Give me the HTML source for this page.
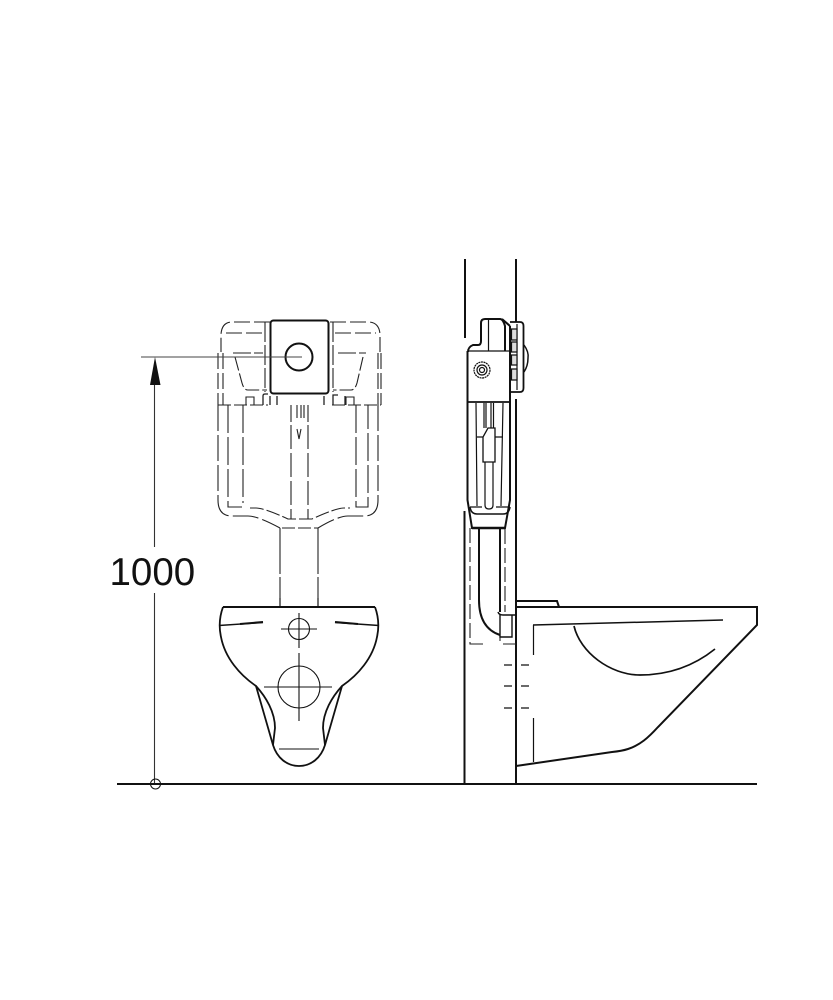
<!DOCTYPE html>
<html>
<head>
<meta charset="utf-8">
<style>
html,body{margin:0;padding:0;background:#fff;width:833px;height:1000px;overflow:hidden}
svg{display:block}
text{font-family:"Liberation Sans",sans-serif}
</style>
</head>
<body>
<svg width="833" height="1000" viewBox="0 0 833 1000" fill="none" stroke="#111">
<!-- dashed front cistern -->
<g stroke-width="1.100" stroke-dasharray="16 4" stroke="#222">
<path d="M270 322H232Q222 322 221 334V352"/>
<path d="M330 322H368Q379 322 380 334V352"/>
<path d="M226 333H264M335 333H376"/>
<path d="M218 353V405M223 353V405M378 353V405M381 353V405"/>
<path d="M265 322V392M333 322V392" stroke-dasharray="20 3"/>
<path d="M218 405H268M332 405H381" stroke-dasharray="13 3"/>
<path d="M233 353H263M338 353H366" stroke-dasharray="18 3"/>
<path d="M235 357L242 383Q244 390 248 390H267M363 357L357 383Q355 390 351 390H333" stroke-dasharray="14 3"/>
<path d="M218 405V500Q218 516 232 516H248Q258 516 280 528M378 405V500Q378 516 364 516H348Q338 516 318 528" stroke-dasharray="26 4"/>
<path d="M250 508H256Q264 508 288 519H312Q336 508 344 508H350" stroke-dasharray="14 3"/>
<path d="M228 405V507H242M243 405V503M356 405V507H368V405" stroke-dasharray="28 4"/>
<path d="M282 528H318" stroke-dasharray="13 3"/>
<path d="M291 425V519M308 425V519" stroke-dasharray="24 4"/>
<path d="M280 528V607M318 528V607" stroke-dasharray="46 3"/>
<path d="M291 405V422M297 405V418M301 405V418M304 405V418M308 405V422M297 429L299 439L301 429" stroke-dasharray="none"/>
<path d="M263 405V396Q263 394 265 394H268M270 396V405M277 396V405M324 396V405M333 405V395H338M345 396V405" stroke-dasharray="none" stroke-width="1.300"/>
<path d="M246 405V397H254V405M346 405V397H354V405" stroke-dasharray="none"/>
</g>
<!-- flush plate -->
<rect x="270.500" y="320.500" width="58" height="73" rx="3" fill="#fff" stroke-width="2"/>
<circle cx="299" cy="357" r="13.500" stroke-width="2"/>
<!-- dimension -->
<path d="M141 357H302" stroke-width="1.100" stroke="#444"/>
<path d="M154.500 380V547M154.500 593V784" stroke-width="1.100" stroke="#333"/>
<path d="M155 357L160.500 385H150Z" fill="#111" stroke="none"/>
<circle cx="155.500" cy="784" r="5" stroke-width="1"/>
<text x="109.500" y="585" font-size="38.500" fill="#111" stroke="none">1000</text>
<!-- floor -->
<path d="M117 784H757" stroke-width="2"/>
<!-- bowl front -->
<g stroke-width="1.800">
<path d="M223 607H375" stroke-width="2"/>
<path d="M223 607C219 618 219 628 221 637C225 658 240 675 256 686L273 745C277 758 287 766 299 766C311 766 321 758 325 745L342 686C358 675 373 658 377 637C379 628 379 618 375 607"/>
<path d="M256 686C266 697 275 712 275 728L273 745M342 686C332 697 323 712 323 728L325 745"/>
<path d="M219 625.500L263 622.500M379 625.500L335 622.500" stroke-width="1.400"/>
<path d="M263 622L240 624M335 622L358 624" stroke-width="2"/>
</g>
<g stroke-width="1.100">
<circle cx="299" cy="629" r="10.500"/>
<path d="M281 629H317M299 613V648M299 653V721M264 687H332M279 749H319"/>
<circle cx="299" cy="687" r="21"/>
<path d="M280 598V607M318 598V607"/>
</g>
<!-- wall -->
<path d="M465 259V338M464.500 511V784" stroke-width="2"/>
<path d="M516 259V322M516 399V784" stroke-width="2"/>
<!-- side cistern -->
<g stroke-width="2">
<path d="M468 352Q468 347 473 345H478Q481 345 481 341V323Q481 319 485 319H500Q503 319 505 326V351"/>
<path d="M467.500 351V500L472 528H505L510 500V403"/>
<path d="M510 326V403"/>
<path d="M502 319L510 326"/>
<path d="M468 351H510" stroke-width="1.300"/>
<path d="M468 402H511" stroke-width="1.700"/>
<path d="M470 507Q471 514 477 514H503Q509 514 510 507" stroke-width="1.500"/>
<path d="M470 507H482M496 507H510" stroke-width="1.200"/>
<path d="M472 528H505" stroke-width="2.400"/>
</g>
<g stroke-width="1.200">
<path d="M488.500 320V351"/>
<path d="M476 403L477 506M503 403L501 506"/>
<path d="M484 403V428M486 403V428M491 403V428M493.500 403V428"/>
<path d="M483 462V437L488 428H495V462ZM477 437H483M495 437H503" stroke-width="1.300"/>
<path d="M485 462V505Q485 509 489 509Q493 509 493 505V462"/>
<path d="M510 322H520Q523.500 322 523.500 326V388Q523.500 392 520 392H510" stroke-width="1.800"/>
<path d="M517 324V390"/>
<path d="M511.500 329H517V340H511.500ZM511.500 342H517V352H511.500ZM511.500 355H517V365H511.500ZM511.500 369H517V380H511.500Z" fill="#ddd"/>
<path d="M524 345Q529 352 528 358Q528 366 524 372" stroke-width="1.500"/>
<circle cx="482" cy="370" r="8" stroke-dasharray="2 .6"/>
<circle cx="482" cy="370" r="5"/>
<circle cx="482" cy="370" r="2.500"/>
</g>
<!-- pipe -->
<g stroke-width="2">
<path d="M479 529V600Q479 628 500 635"/>
<path d="M500 529V612"/>
<path d="M498 612Q499 615 503 615H516" stroke-width="1.500"/>
<path d="M500 615V637H512V615" stroke-width="1.400"/>
<path d="M500 637V641" stroke-width="1"/>
</g>
<path d="M470 528V644H486M505 529V612M503 644H516" stroke-width="1.100" stroke-dasharray="15 4" stroke="#222"/>
<path d="M504 665H512M521 665H529M504 686H512M521 686H529M504 708H512M521 708H529" stroke-width="1.200"/>
<!-- toilet side -->
<g stroke-width="2">
<path d="M516 601H557L559 607"/>
<path d="M516 607H757V625L658 727C648 738 640 745 628 749Q622 751 612 752L516 766"/>
</g>
<path d="M533 625L723 620" stroke-width="1.500"/>
<path d="M533.500 625V655M533.500 718V762" stroke-width="1.200"/>
<path d="M574 626C580 652 610 675 640 675C670 675 695 665 715 649" stroke-width="1.700"/>
</svg>
</body>
</html>
